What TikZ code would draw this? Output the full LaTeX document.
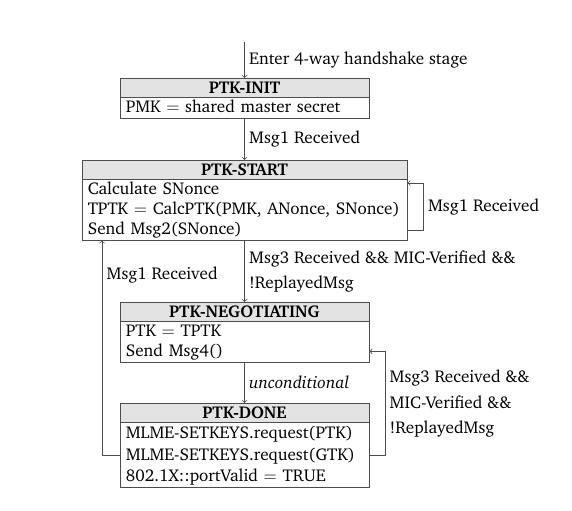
\documentclass[tikz,border=0pt]{standalone}
\usepackage[T1]{fontenc}
\usepackage{charter}
\usetikzlibrary{shapes.multipart}
\newcommand{\hstrut}{\rule[-2.4pt]{0pt}{12.3pt}}
\newcommand{\bstrut}{\rule[-3.3pt]{0pt}{13.8pt}}
\newcommand{\dstrut}{\rule[-3.6pt]{0pt}{14.8pt}}
\newcommand{\hd}[1]{\hfill\textbf{#1}\hstrut\hfill\null}
\tikzset{
  state/.style={rectangle split, rectangle split parts=2, draw=black!70, line width=0.6pt,
    rectangle split part fill={black!11,white}, inner xsep=4pt, inner ysep=0pt,
    text width=#1, align=left, font=\fontsize{11.8}{13.8}\selectfont, anchor=north},
  arr/.style={->, draw=black!70, line width=0.5pt},
  lbl/.style={font=\fontsize{11.8}{17.6}\selectfont, align=left, inner sep=3pt, text=black},
}
\begin{document}
\begin{tikzpicture}[x=0.69pt,y=-0.69pt]
\useasboundingbox (0,0) rectangle (572,510);
\node[state=163.8pt] (init) at (244.5,78) {\hd{PTK-INIT}\nodepart{two}\mbox{\bstrut PMK $=$ shared master secret}};
\node[state=216.3pt] (start) at (244.5,160) {\hd{PTK-START}\nodepart{two}\mbox{\bstrut Calculate SNonce}\\\mbox{\bstrut TPTK $=$ CalcPTK(PMK, ANonce, SNonce)}\\\mbox{\bstrut Send Msg2(SNonce)}};
\node[state=163.8pt] (neg) at (244.5,302) {\hd{PTK-NEGOTIATING}\nodepart{two}\mbox{\bstrut PTK $=$ TPTK}\\\mbox{\bstrut Send Msg4()}};
\node[state=163.8pt, font=\fontsize{11.8}{14.8}\selectfont] (done) at (244.5,403) {\hd{PTK-DONE}\nodepart{two}\mbox{\dstrut MLME-SETKEYS.request(PTK)}\\\mbox{\dstrut MLME-SETKEYS.request(GTK)}\\\mbox{\dstrut 802.1X::portValid $=$ TRUE}};
\coordinate (entry) at (244.5,42);
\coordinate (lx) at (102,0);
\coordinate (rx) at (385,0);
\coordinate (negin) at ([yshift=7.6pt]neg.south east);
\draw[arr] (entry) -- (init.north) node[lbl,midway,right] {Enter 4-way handshake stage};
\draw[arr] (init.south) -- (start.north) node[lbl,midway,right] {Msg1 Received};
\draw[arr] (start.south) -- (neg.north) node[lbl,midway,right] {Msg3 Received \&\& MIC-Verified \&\&\\!ReplayedMsg};
\draw[arr] (neg.south) -- (done.north) node[lbl,midway,right] {\textit{unconditional}};
\draw[arr] ([yshift=6.9pt]start.south east) -- ++(16,0) |- node[lbl,right,pos=0.25] {Msg1 Received} ([yshift=-15.9pt]start.north east);
\draw[arr] ([yshift=22.2pt]done.south west) -| node[lbl,right,pos=0.92] {Msg1 Received} (lx |- start.south);
\draw[arr] ([yshift=22.2pt]done.south east) -| node[lbl,right,pos=0.75] {Msg3 Received \&\&\\MIC-Verified \&\&\\!ReplayedMsg} (rx |- negin) -- (negin);
\end{tikzpicture}
\end{document}
